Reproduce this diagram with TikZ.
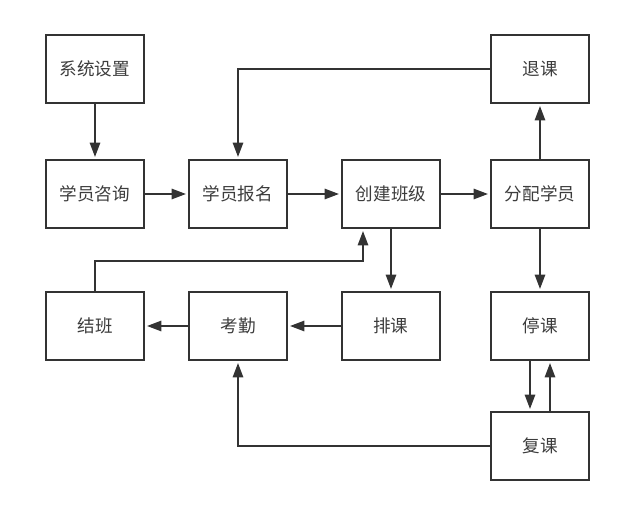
\documentclass[tikz,border=0pt]{standalone}
\usepackage{fontspec}
\setmainfont{Noto Sans CJK SC}
\usepackage{xcolor}
\usepackage{tikz}
\usetikzlibrary{arrows.meta}
\definecolor{linegray}{RGB}{51,51,51}
\definecolor{textgray}{RGB}{60,60,60}

\begin{document}
\begin{tikzpicture}[x=0.025cm,y=-0.025cm,
		box/.style={draw=linegray,line width=1.3pt,minimum width=2.45cm,minimum height=1.7cm,
			text=textgray,font=\fontsize{12.5}{15}\selectfont,inner sep=0pt},
		arr/.style={draw=linegray,line width=1.3pt,-{Triangle[length=0.36cm,width=0.26cm]},shorten >=1.5pt}]
		\useasboundingbox (0,0) rectangle (641,513);
		
		% top row
		\node[box] (xtsz) at (95,69) {系统设置};
		\node[box] (tk) at (540,69) {退课};
		
		% middle row
		\node[box] (xyzx) at (95,194) {学员咨询};
		\node[box] (xybm) at (238,194) {学员报名};
		\node[box] (cjbj) at (391,194) {创建班级};
		\node[box] (fpxy) at (540,194) {分配学员};
		
		% lower row
		\node[box] (jb) at (95,326) {结班};
		\node[box] (kq) at (238,326) {考勤};
		\node[box] (pk) at (391,326) {排课};
		\node[box] (tg) at (540,326) {停课};
		\node[box] (fk) at (540,446) {复课};
		
		\draw[arr] (xtsz) -- (xyzx);
		\draw[arr] (xyzx) -- (xybm);
		\draw[arr] (xybm) -- (cjbj);
		\draw[arr] (cjbj) -- (fpxy);
		\draw[arr] (fpxy) -- (tk);
		\draw[arr] (tk.west) -| (xybm.north);
		\draw[arr] (cjbj) -- (pk);
		\draw[arr] (pk) -- (kq);
		\draw[arr] (kq) -- (jb);
		\draw[arr] (jb.north) -- ++(0,-30) -| ([xshift=-0.7cm]cjbj.south);
		\draw[arr] (fpxy) -- (tg);
		\draw[arr] ([xshift=-0.25cm]tg.south) -- ([xshift=-0.25cm]fk.north);
		\draw[arr] ([xshift=0.25cm]fk.north) -- ([xshift=0.25cm]tg.south);
		\draw[arr] (fk.west) -| (kq.south);
	\end{tikzpicture}
\end{document}
